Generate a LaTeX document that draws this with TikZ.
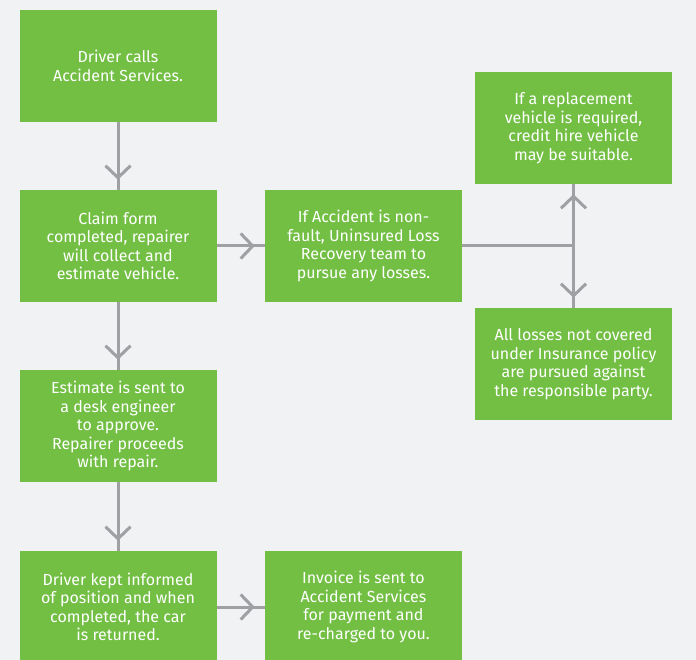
\documentclass[tikz,border=0pt]{standalone}
\usepackage{fontspec}
\setmainfont{Fira Sans}
\usetikzlibrary{arrows.meta, positioning, decorations.markings}
\definecolor{leafgreen}{HTML}{72BF44}
\definecolor{linkgray}{HTML}{9FA0A4}
\definecolor{pagegray}{HTML}{F1F2F4}

\begin{document}
\begin{tikzpicture}[x=1pt, y=-1pt,
    stepbox/.style={fill=leafgreen, text=white, minimum width=197pt, minimum height=112pt,
        inner sep=0pt, align=center, font=\fontsize{16}{18.5}\selectfont},
    link/.style={draw=linkgray, line width=3pt},
    flow/.style={link, postaction={decorate},
        decoration={markings, mark=at position -10pt with {\arrow{Straight Barb[length=12pt, width=25pt]}}}}]
    % Page
    \fill[pagegray] (0,0) rectangle (696,660);
    \useasboundingbox (0,0) rectangle (696,660);

    % Left column
    \node[stepbox] (call) at (118,66) {Driver calls\\Accident Services.};
    \node[stepbox] (claim) at (118,246) {Claim form\\completed, repairer\\will collect and\\estimate vehicle.};
    \node[stepbox] (estimate) at (118,426) {Estimate is sent to\\a desk engineer\\to approve.\\Repairer proceeds\\with repair.};
    \node[stepbox] (informed) at (118,607) {Driver kept informed\\of position and when\\completed, the car\\is returned.};

    % Middle column
    \node[stepbox] (nonfault) at (363.5,246) {If Accident is non-\\fault, Uninsured Loss\\Recovery team to\\pursue any losses.};
    \node[stepbox] (invoice) at (363.5,607) {Invoice is sent to\\Accident Services\\for payment and\\re-charged to you.};

    % Right column
    \node[stepbox] (hire) at (573.5,128) {If a replacement\\vehicle is required,\\credit hire vehicle\\may be suitable.};
    \node[stepbox] (losses) at (573.5,364) {All losses not covered\\under Insurance policy\\are pursued against\\the responsible party.};

    % Connectors
    \draw[flow] (call) -- (claim);
    \draw[flow] (claim) -- (estimate);
    \draw[flow] (estimate) -- (informed);
    \draw[flow] (claim) -- (nonfault);
    \draw[flow] (informed.east |- invoice.west) -- (invoice.west);
    \coordinate (split) at (nonfault.east -| hire.south);
    \draw[link] (nonfault.east) -- (split);
    \draw[flow] (split) -- (hire.south);
    \draw[flow] (split) -- (losses.north);
\end{tikzpicture}
\end{document}
